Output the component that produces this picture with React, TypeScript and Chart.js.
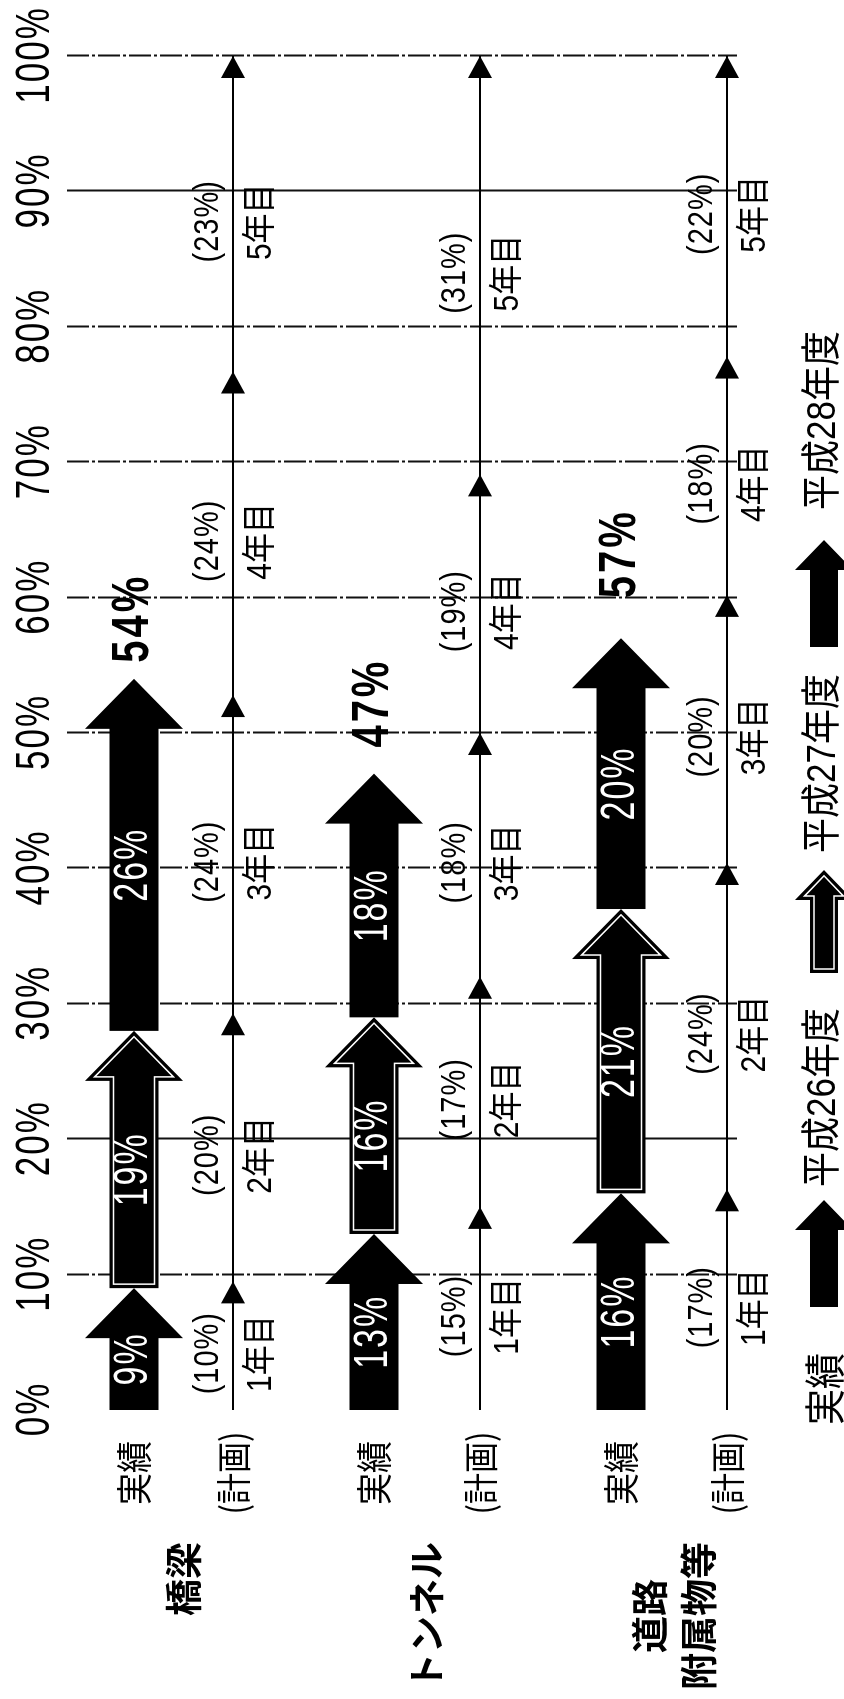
import React, { useEffect, useRef } from "react";
import { Chart, registerables } from "chart.js";

Chart.register(...registerables);

// ---------------- data ----------------
const GROUPS: string[][] = [["橋梁"], ["トンネル"], ["道路", "附属物等"]];
const ROW_ACTUAL_LABEL = "実績";
const ROW_PLAN_LABEL = "(計画)";
const YEARS = ["平成26年度", "平成27年度", "平成28年度"];
const ACTUAL_H26 = [9, 13, 16];
const ACTUAL_H27 = [19, 16, 21];
const ACTUAL_H28 = [26, 18, 20];
const ACTUAL_TOTAL = [54, 47, 57];
const PLAN_SHARE: number[][] = [
  [10, 20, 24, 24, 23],
  [15, 17, 18, 19, 31],
  [17, 24, 20, 18, 22],
];
// cumulative plan marks as drawn in the picture (arrowhead positions, %)
const PLAN_MARKS: number[][] = [
  [9.5, 29.3, 52.8, 76.7, 100],
  [15, 32, 50, 69.1, 100],
  [16.3, 40.4, 60.2, 77.8, 100],
];
const PLAN_YEARS = ["1年目", "2年目", "3年目", "4年目", "5年目"];
const TICK_VALUES = [0, 10, 20, 30, 40, 50, 60, 70, 80, 90, 100];
const SOLID_GRID = [90, 20];

// ---------------- layout (original landscape frame, later rotated) ----------------
const W0 = 1699;
const H0 = 844;
const PAD = { left: 289, right: 56, top: 67, bottom: 107 };
const Y_MAX = 6.7;
const ROW_ACTUAL = [0.67, 3.07, 5.54];
const ROW_PLAN = [1.66, 4.13, 6.6];
const TOTAL_GAP = [16, 26, 40];

const LATIN = '"Liberation Sans", "Noto Sans CJK JP", sans-serif';
const JP = '"Noto Sans CJK JP", sans-serif';

function txt(
  ctx: CanvasRenderingContext2D,
  s: string,
  x: number,
  y: number,
  font: string,
  color: string,
  align: CanvasTextAlign,
  sy: number,
  spacing = 0
) {
  ctx.save();
  ctx.translate(x, y);
  ctx.scale(1, sy);
  ctx.font = font;
  ctx.fillStyle = color;
  ctx.textBaseline = "middle";
  (ctx as any).letterSpacing = `${spacing}px`;
  // measure to align manually (letterSpacing adds trailing space)
  const w = ctx.measureText(s).width - spacing;
  ctx.textAlign = "left";
  let x0 = 0;
  if (align === "center") x0 = -w / 2;
  else if (align === "right") x0 = -w;
  ctx.fillText(s, x0, 0);
  ctx.restore();
}

function arrowPath(
  ctx: CanvasRenderingContext2D,
  x0: number,
  x1: number,
  yc: number,
  sh: number,
  hh: number,
  hl: number
) {
  const hb = x1 - hl;
  ctx.beginPath();
  ctx.moveTo(x0, yc - sh);
  ctx.lineTo(hb, yc - sh);
  ctx.lineTo(hb, yc - hh);
  ctx.lineTo(x1, yc);
  ctx.lineTo(hb, yc + hh);
  ctx.lineTo(hb, yc + sh);
  ctx.lineTo(x0, yc + sh);
  ctx.closePath();
}

function drawArrow(
  ctx: CanvasRenderingContext2D,
  x0: number,
  x1: number,
  yc: number,
  sh: number,
  hh: number,
  hl: number,
  outlined: boolean
) {
  ctx.save();
  ctx.fillStyle = "#000";
  arrowPath(ctx, x0, x1, yc, sh, hh, hl);
  ctx.fill();
  if (outlined) {
    const d = 4;
    ctx.strokeStyle = "#fff";
    ctx.lineWidth = 1.5;
    arrowPath(ctx, x0 + d, x1 - 1.45 * d, yc, sh - d, hh - 2.4 * d, hl - 2.45 * d);
    ctx.stroke();
  }
  ctx.restore();
}

const overlay = {
  id: "overlay",
  beforeDatasetsDraw(chart: any) {
    const ctx: CanvasRenderingContext2D = chart.ctx;
    const xs = chart.scales.x;
    const area = chart.chartArea;
    ctx.save();
    ctx.strokeStyle = "#111";
    ctx.lineWidth = 2;
    TICK_VALUES.forEach((v) => {
      if (v === 0) return;
      const x = Math.round(xs.getPixelForValue(v)) + 0.5;
      ctx.setLineDash(SOLID_GRID.includes(v) ? [] : [22, 3, 3, 3]);
      ctx.beginPath();
      ctx.moveTo(x, area.top);
      ctx.lineTo(x, area.bottom);
      ctx.stroke();
    });
    ctx.restore();
    // tick labels
    TICK_VALUES.forEach((v) => {
      txt(ctx, `${v}%`, xs.getPixelForValue(v), 36, `35px ${LATIN}`, "#000", "center", 1.35, 2);
    });
  },
  afterDatasetsDraw(chart: any) {
    const ctx: CanvasRenderingContext2D = chart.ctx;
    const xs = chart.scales.x;
    const ys = chart.scales.y;

    // actual arrows
    [0, 1, 2].forEach((di) => {
      const meta = chart.getDatasetMeta(di);
      const ds = chart.data.datasets[di];
      meta.data.forEach((el: any, i: number) => {
        const start = Math.min(el.base, el.x);
        const end = Math.max(el.base, el.x);
        drawArrow(ctx, start, end, el.y, 24.5, 49, 50, di === 1);
        const raw = ds.data[i].x as number[];
        const mid = (raw[0] + raw[1]) / 2 - 0.8;
        txt(ctx, `${raw[1] - raw[0]}%`, xs.getPixelForValue(mid), el.y, `34px ${LATIN}`, "#fff", "center", 1.4, 2);
      });
    });

    // totals
    ACTUAL_TOTAL.forEach((t, i) => {
      const y = ys.getPixelForValue(ROW_ACTUAL[i]);
      txt(ctx, `${t}%`, xs.getPixelForValue(t) + TOTAL_GAP[i], y, `bold 40px ${LATIN}`, "#000", "left", 1.3, 3);
    });

    // plan heads and labels
    PLAN_MARKS.forEach((marks, r) => {
      const meta = chart.getDatasetMeta(3 + r);
      const y = ys.getPixelForValue(ROW_PLAN[r]);
      meta.data.forEach((pt: any, k: number) => {
        if (k === 0) return;
        const tip = pt.x;
        ctx.save();
        ctx.fillStyle = "#000";
        ctx.beginPath();
        ctx.moveTo(tip, pt.y);
        ctx.lineTo(tip - 22, pt.y - 12);
        ctx.lineTo(tip - 22, pt.y + 12);
        ctx.closePath();
        ctx.fill();
        ctx.restore();
      });
      marks.forEach((m, k) => {
        const prev = k === 0 ? 0 : marks[k - 1];
        const cx = xs.getPixelForValue((prev + m) / 2) - 8;
        txt(ctx, `(${PLAN_SHARE[r][k]}%)`, cx, y - 25, `29px ${LATIN}`, "#000", "center", 1.2, 1);
        txt(ctx, PLAN_YEARS[k], cx, y + 28, `30px ${LATIN}`, "#000", "center", 1.15);
      });
    });

    // row labels
    ROW_ACTUAL.forEach((rv) => {
      txt(ctx, ROW_ACTUAL_LABEL, 226, ys.getPixelForValue(rv), `32px ${JP}`, "#000", "center", 1.15);
    });
    ROW_PLAN.forEach((rv) => {
      txt(ctx, ROW_PLAN_LABEL, 226, ys.getPixelForValue(rv), `31px ${JP}`, "#000", "center", 1.15);
    });

    // group labels
    GROUPS.forEach((lines, g) => {
      const yc = (ys.getPixelForValue(ROW_ACTUAL[g]) + ys.getPixelForValue(ROW_PLAN[g])) / 2;
      ctx.save();
      ctx.font = `bold 37px ${JP}`;
      const widths = lines.map((l) => ctx.measureText(l).width);
      ctx.restore();
      const bw = Math.max(...widths);
      const cx = 157 - bw / 2;
      const lh = 49;
      lines.forEach((l, j) => {
        const y = yc + (j - (lines.length - 1) / 2) * lh;
        txt(ctx, l, cx, y, `bold 37px ${JP}`, "#000", "center", 1.0);
      });
    });

    // legend
    const ly = 824;
    txt(ctx, ROW_ACTUAL_LABEL, 310, ly, `36px ${JP}`, "#000", "center", 1.15);
    const LEG_ARROWS = [
      [392, 499],
      [726, 829],
      [1052, 1159],
    ];
    const LEG_TEXT = [512, 846, 1189];
    YEARS.forEach((yr, i) => {
      drawArrow(ctx, LEG_ARROWS[i][0], LEG_ARROWS[i][1], ly, 14, 29, 30, i === 1);
      txt(ctx, yr, LEG_TEXT[i], ly, `35px ${LATIN}`, "#000", "left", 1.15);
    });
  },
};

export default function App() {
  const ref = useRef<HTMLCanvasElement>(null);
  useEffect(() => {
    const canvas = ref.current;
    if (!canvas) return;
    const starts27 = ACTUAL_H26;
    const starts28 = ACTUAL_H26.map((v, i) => v + ACTUAL_H27[i]);
    const barBase = {
      type: "bar" as const,
      backgroundColor: "rgba(0,0,0,0)",
      borderWidth: 0,
      barThickness: 49,
      grouped: false,
    };
    const datasets: any[] = [
      { ...barBase, label: YEARS[0], data: ACTUAL_H26.map((v, i) => ({ x: [0, v], y: ROW_ACTUAL[i] })) },
      { ...barBase, label: YEARS[1], data: ACTUAL_H27.map((v, i) => ({ x: [starts27[i], starts27[i] + v], y: ROW_ACTUAL[i] })) },
      { ...barBase, label: YEARS[2], data: ACTUAL_H28.map((v, i) => ({ x: [starts28[i], starts28[i] + v], y: ROW_ACTUAL[i] })) },
      ...PLAN_MARKS.map((marks, r) => ({
        type: "line" as const,
        label: "計画" + r,
        data: [{ x: 0, y: ROW_PLAN[r] }, ...marks.map((m) => ({ x: m, y: ROW_PLAN[r] }))],
        borderColor: "#000",
        borderWidth: 2,
        pointRadius: 0,
        fill: false,
        indexAxis: "y",
      })),
    ];
    const chart = new Chart(canvas, {
      type: "bar",
      data: { datasets },
      options: {
        indexAxis: "y",
        animation: false,
        responsive: false,
        devicePixelRatio: 1,
        events: [],
        layout: { padding: PAD },
        plugins: { legend: { display: false }, tooltip: { enabled: false } },
        scales: {
          x: { type: "linear", min: 0, max: 100, display: false, offset: false },
          y: { type: "linear", min: 0, max: Y_MAX, reverse: true, display: false, offset: false },
        },
      } as any,
      plugins: [overlay],
    });
    return () => chart.destroy();
  }, []);

  return (
    <div
      style={{
        position: "fixed",
        left: 0,
        top: 0,
        width: 844,
        height: 1699,
        overflow: "hidden",
        background: "#fff",
      }}
    >
      <canvas
        ref={ref}
        width={W0}
        height={H0}
        style={{
          position: "absolute",
          left: 0,
          top: 0,
          width: W0,
          height: H0,
          transformOrigin: "0 0",
          transform: `translate(0px, ${W0}px) rotate(-90deg)`,
        }}
      />
    </div>
  );
}
